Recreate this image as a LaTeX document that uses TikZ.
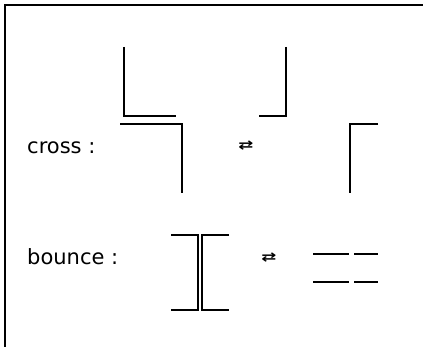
\documentclass[tikz,border=0pt]{standalone}
\usepackage{graphicx}
\usepackage{fontspec}
\setmainfont{DejaVu Sans}
\usepackage{tikz}
\usetikzlibrary{positioning}
\tikzset{
    wall/.style={draw=black, line width=1.3pt},
    frame/.style={draw=black, line width=2pt},
    label/.style={anchor=base west, inner sep=0pt, font=\fontsize{21}{25}\selectfont},
    swap/.style={inner sep=0pt, font=\fontsize{18}{20}\selectfont\bfseries}
}
\newcommand{\swaparrows}{\scalebox{1}[0.7]{⇄}}
\begin{document}
\begin{tikzpicture}[x=1pt, y=-1pt]
        \useasboundingbox (0,0) rectangle (423,347);
        \draw[frame] (5,347) -- (5,5) -- (423,5);

        % cross
        \node[label] (Cross) at (27,154) {cross :};
        \draw[wall] (124,47) -- (124,116) -- (176,116);
        \draw[wall] (120,124) -- (182,124) -- (182,193);
        \node[swap] (CrossSwap) at (246,146) {\swaparrows};
        \draw[wall] (286,47) -- (286,116) -- (259,116);
        \draw[wall] (378,124) -- (350,124) -- (350,193);

        % bounce
        \node[label] (Bounce) at (27,265) {bounce :};
        \draw[wall] (171,235) -- (198,235) -- (198,310) -- (171,310);
        \draw[wall] (229,235) -- (202,235) -- (202,310) -- (229,310);
        \node[swap] (BounceSwap) at (269,258) {\swaparrows};
        \draw[wall] (313,254) -- (349,254) (354,254) -- (378,254);
        \draw[wall] (313,282) -- (349,282) (354,282) -- (378,282);
    \end{tikzpicture}
\end{document}
